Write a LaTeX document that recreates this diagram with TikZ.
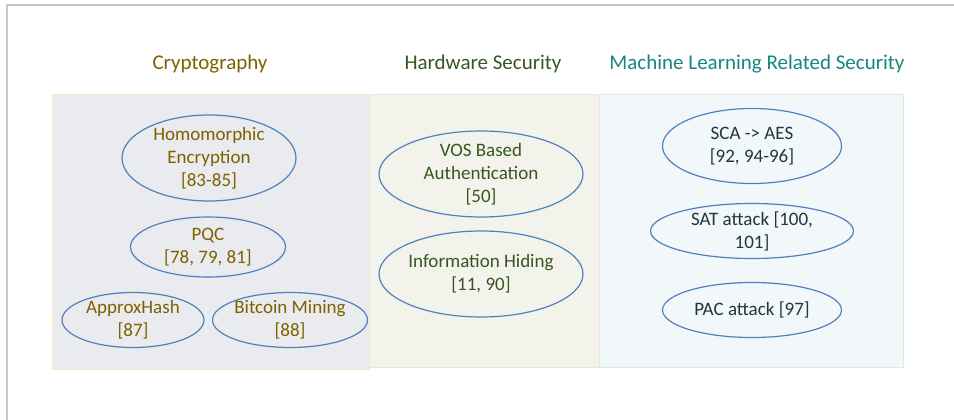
\documentclass[tikz,border=0pt]{standalone}
\usepackage{fontspec}
\setmainfont{Carlito}
\usetikzlibrary{shapes.geometric}
\definecolor{framegray}{HTML}{C8C8C8}
\definecolor{ellblue}{HTML}{4F81BD}
\definecolor{cryptoText}{HTML}{7F6000}
\definecolor{hwText}{HTML}{375623}
\definecolor{mlTitle}{HTML}{16877D}
\definecolor{mlText}{HTML}{203838}
\definecolor{cryptoFill}{HTML}{E9EBEE}
\definecolor{cryptoEdge}{HTML}{F8E8C2}
\definecolor{hwFill}{HTML}{F3F3EC}
\definecolor{mlFill}{HTML}{F2F7FA}
\definecolor{panelEdge}{HTML}{E0EAD4}
\begin{document}
\begin{tikzpicture}[x=1pt, y=-1pt,
        panel/.style={draw, line width=1pt, anchor=north west},
        heading/.style={font=\fontsize{21}{25}\selectfont},
        topic/.style={ellipse, draw=ellblue, line width=1.2pt, inner sep=-10pt, align=center, font=\fontsize{19}{23}\selectfont}]
        \useasboundingbox (0,0) rectangle (954,420);
        % Page frame
        \draw[framegray, line width=1.5pt] (7,420) -- (7,5) -- (954,5);
        % Three research areas
        \node[panel, draw=cryptoEdge, fill=cryptoFill, minimum width=317pt, minimum height=275pt] (cryptoBox) at (52,94) {};
        \node[panel, draw=panelEdge, fill=hwFill, minimum width=230pt, minimum height=273pt] (hwBox) at (369,94) {};
        \node[panel, draw=panelEdge, fill=mlFill, minimum width=304pt, minimum height=273pt] (mlBox) at (599,94) {};
        \node[heading, text=cryptoText] (cryptoTitle) at (210,64) {Cryptography};
        \node[heading, text=hwText] (hwTitle) at (483,64) {Hardware Security};
        \node[heading, text=mlTitle] (mlTitle) at (757,64) {Machine Learning Related Security};
        % Cryptography topics
        \node[topic, text=cryptoText, minimum width=174pt, minimum height=86pt] (homEnc) at (209,158) {Homomorphic\\Encryption\\\relax[83-85]};
        \node[topic, text=cryptoText, minimum width=155pt, minimum height=60pt] (pqc) at (208,247) {PQC\\\relax[78, 79, 81]};
        \node[topic, text=cryptoText, minimum width=142pt, minimum height=55pt] (approxHash) at (133,320) {ApproxHash\\\relax[87]};
        \node[topic, text=cryptoText, minimum width=155pt, minimum height=55pt] (bitcoin) at (290,320) {Bitcoin Mining\\\relax[88]};
        % Hardware security topics
        \node[topic, text=hwText, minimum width=204pt, minimum height=86pt] (vos) at (481,174) {VOS Based\\Authentication\\\relax[50]};
        \node[topic, text=hwText, minimum width=204pt, minimum height=86pt] (infoHiding) at (481,274) {Information Hiding\\\relax[11, 90]};
        % ML related topics
        \node[topic, text=mlText, minimum width=179pt, minimum height=75pt] (sca) at (752,146) {SCA -> AES\\\relax[92, 94-96]};
        \node[topic, text=mlText, minimum width=203pt, minimum height=55pt] (sat) at (752,231) {SAT attack [100,\\101]};
        \node[topic, text=mlText, minimum width=179pt, minimum height=55pt] (pac) at (752,310) {PAC attack [97]};
    \end{tikzpicture}
\end{document}
